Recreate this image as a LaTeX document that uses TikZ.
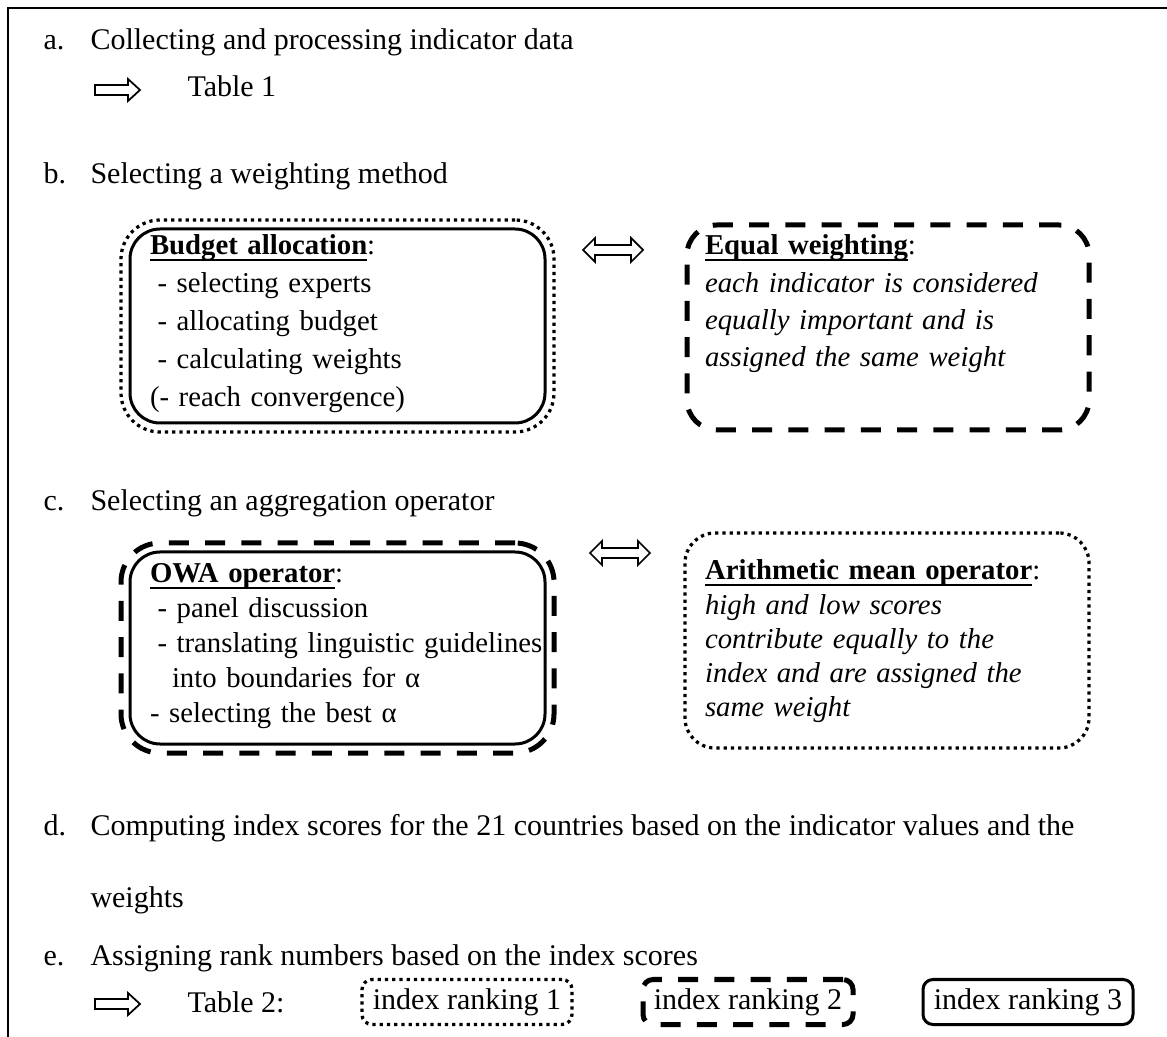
\documentclass[tikz,border=0pt]{standalone}
\usepackage{fontspec}
\setmainfont{Liberation Serif}
\newcommand{\hdul}[1]{\setbox0\hbox{\textbf{#1}}\rlap{\rule[-2.5pt]{\wd0}{0.9pt}}\box0}
\usetikzlibrary{fit}
\tikzset{%
    txt/.style={anchor=base west, inner sep=0pt},
    box/.style={anchor=north west, align=left, inner xsep=8pt, inner ysep=0pt, outer sep=0pt, rounded corners=12pt},
    ring/.style={inner sep=3.6pt, rounded corners=15.6pt},
    sol/.style={draw, line width=1.2pt},
    dsh/.style={draw, line width=2pt, dash pattern=on 8pt off 6.5pt},
    dot/.style={draw, line width=1.3pt, dash pattern=on 1.3pt off 1.6pt},
    rnk/.style={inner sep=0pt, minimum width=84pt, minimum height=18pt, rounded corners=4pt, outer sep=0pt},
    arr/.style={line width=0.7pt, line join=miter},
    pics/rar/.style={code={\draw[arr] (0,-5) -- (33,-5) -- (33,-11) -- (45,0) -- (33,11) -- (33,5) -- (0,5) -- cycle;}},
    pics/lrar/.style={code={\draw[arr] (0,0) -- (12,-12) -- (12,-5) -- (48,-5) -- (48,-12) -- (60,0) -- (48,12) -- (48,5) -- (12,5) -- (12,12) -- cycle;}}
}

\begin{document}
\begin{tikzpicture}[x=0.4pt,y=-0.4pt, font=\fontsize{12}{14}\selectfont]
    \useasboundingbox (0,0) rectangle (1167,1037);
    % frame
    \coordinate (fb) at (8,1037);
    \coordinate (ft) at (8,8);
    \coordinate (fr) at (1167,8);
    \draw[line width=0.8pt] (fb) -- (ft) -- (fr);

    % a.
    \node[txt] (la) at (43,50) {a.};
    \node[txt] (ta) at (90,50) {Collecting and processing indicator data};
    \pic at (95,90) {rar};
    \node[txt] (tab1) at (187,97) {Table 1};

    % b.
    \node[txt] (lb) at (43,184) {b.};
    \node[txt] (tb) at (90,184) {Selecting a weighting method};
    \node[box, sol, text width=150pt, text height=10.4pt, text depth=67.2pt,
          font=\fontsize{11.5}{15.2}\selectfont] (budget) at (130,229)
         {\hdul{Budget allocation}:\\
          \hspace*{3pt}- selecting experts\\
          \hspace*{3pt}- allocating budget\\
          \hspace*{3pt}- calculating weights\\
          (- reach convergence)};
    \node[dot, ring, fit=(budget)] (budgetring) {};
    \pic at (583,250) {lrar};
    \node[box, dsh, inner xsep=7.2pt, text width=146.4pt, text height=12pt, text depth=70pt,
          font=\fontsize{11.5}{14.9}\selectfont] (equal) at (687,225)
         {\hdul{Equal weighting}:\\
          \itshape each indicator is considered\\
          equally important and is\\
          assigned the same weight};

    % c.
    \node[txt] (lc) at (43,511) {c.};
    \node[txt] (tc) at (90,511) {Selecting an aggregation operator};
    \node[box, sol, text width=150pt, text height=12.4pt, text depth=64.4pt,
          font=\fontsize{11.5}{14}\selectfont] (owa) at (130,552)
         {\hdul{OWA operator}:\\
          \hspace*{3pt}- panel discussion\\
          \hspace*{3pt}\mbox{- translating linguistic guidelines}\\
          \hspace*{8.8pt}into boundaries for α\\
          - selecting the best α};
    \node[dsh, ring, fit=(owa)] (owaring) {};
    \pic at (590,553) {lrar};
    \node[box, dot, text width=145.6pt, text height=18.8pt, text depth=67.2pt,
          font=\fontsize{11.5}{13.7}\selectfont] (arith) at (685,533)
         {\hdul{Arithmetic mean operator}:\\
          \itshape high and low scores\\
          contribute equally to the\\
          index and are assigned the\\
          same weight};

    % d.
    \node[txt] (ld) at (43,836) {d.};
    \node[txt] (td) at (90,836) {Computing index scores for the 21 countries based on the indicator values and the};
    \node[txt] (tdw) at (90,908) {weights};

    % e.
    \node[txt] (le) at (43,966) {e.};
    \node[txt] (te) at (90,966) {Assigning rank numbers based on the index scores};
    \pic at (95,1004) {rar};
    \node[txt] (tab2) at (187,1012) {Table 2:};
    \node[rnk, dot] (rank1) at (467,1002) {index ranking 1};
    \node[rnk, dsh] (rank2) at (748,1002) {index ranking 2};
    \node[rnk, sol] (rank3) at (1028,1002) {index ranking 3};
\end{tikzpicture}
\end{document}
